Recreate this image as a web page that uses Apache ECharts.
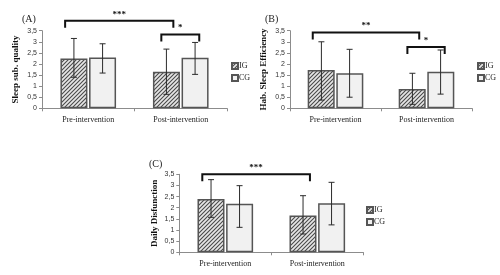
<!DOCTYPE html>
<html>
<head>
<meta charset="utf-8">
<script src="https://cdn.jsdelivr.net/npm/echarts@6/dist/echarts.min.js"></script>
<style>
  html, body { margin: 0; padding: 0; background: #fff; }
  #chart { width: 500px; height: 275px; }
</style>
</head>
<body>
<div id="chart"></div>
<script>
// groups and time points
const categories = ['Pre-intervention', 'Post-intervention'];
const groups = ['IG', 'CG'];

// (A) Sleep sub. quality
const qualityIG = [2.25, 1.65];
const qualityCG = [2.29, 2.28];
const qualityIGLow = [1.40, 0.63];
const qualityIGHigh = [3.15, 2.67];
const qualityCGLow = [1.59, 1.53];
const qualityCGHigh = [2.91, 2.97];

// (B) Hab. Sleep Efficiency
const efficiencyIG = [1.73, 0.87];
const efficiencyCG = [1.58, 1.65];
const efficiencyIGLow = [0.37, 0.18];
const efficiencyIGHigh = [3.00, 1.58];
const efficiencyCGLow = [0.50, 0.64];
const efficiencyCGHigh = [2.66, 2.63];

// (C) Daily Disfunction
const dysfunctionIG = [2.39, 1.65];
const dysfunctionCG = [2.18, 2.20];
const dysfunctionIGLow = [1.57, 0.82];
const dysfunctionIGHigh = [3.26, 2.54];
const dysfunctionCGLow = [1.12, 1.23];
const dysfunctionCGHigh = [2.99, 3.14];

// significance brackets: pre->post for IG ('time'), IG vs CG post ('group')
const qualityBrackets = [['***', 3.95, 'time'], ['*', 3.33, 'group']];
const efficiencyBrackets = [['**', 3.42, 'time'], ['*', 2.77, 'group']];
const dysfunctionBrackets = [['***', 3.5, 'time']];

const yMin = 0, yMax = 3.5, yStep = 0.5;

// hatch pattern for IG bars
function hatch() {
    const c = document.createElement('canvas');
    c.width = 4; c.height = 4;
    const ctx = c.getContext('2d');
    ctx.fillStyle = '#e6e6e6';
    ctx.fillRect(0, 0, 4, 4);
    ctx.strokeStyle = '#4a4a4a';
    ctx.lineWidth = 1.1;
    ctx.beginPath();
    ctx.moveTo(-1, 5); ctx.lineTo(5, -1);
    ctx.moveTo(-1, 1); ctx.lineTo(1, -1);
    ctx.moveTo(3, 5); ctx.lineTo(5, 3);
    ctx.stroke();
    return c;
}
const hatchFill = { image: hatch(), repeat: 'repeat' };

const panels = [
    { title: '(A)', name: 'Sleep sub. quality', ig: qualityIG, cg: qualityCG,
      igLow: qualityIGLow, igHigh: qualityIGHigh, cgLow: qualityCGLow, cgHigh: qualityCGHigh,
      brackets: qualityBrackets,
      grid: { left: 42, width: 185, top: 30.7, height: 77.6 }, nameGap: 22,
      titlePos: { left: 17, top: 9 }, legendPos: { left: 226, top: 57 } },
    { title: '(B)', name: 'Hab. Sleep Efficiency', ig: efficiencyIG, cg: efficiencyCG,
      igLow: efficiencyIGLow, igHigh: efficiencyIGHigh, cgLow: efficiencyCGLow, cgHigh: efficiencyCGHigh,
      brackets: efficiencyBrackets,
      grid: { left: 290, width: 182, top: 30.7, height: 77.6 }, nameGap: 22,
      titlePos: { left: 260, top: 9 }, legendPos: { left: 472, top: 57 } },
    { title: '(C)', name: 'Daily Disfunction', ig: dysfunctionIG, cg: dysfunctionCG,
      igLow: dysfunctionIGLow, igHigh: dysfunctionIGHigh, cgLow: dysfunctionCGLow, cgHigh: dysfunctionCGHigh,
      brackets: dysfunctionBrackets,
      grid: { left: 179.3, width: 184, top: 174.3, height: 78 }, nameGap: 20,
      titlePos: { left: 144, top: 154 }, legendPos: { left: 361, top: 201 } }
];

const serif = '"Liberation Serif", "DejaVu Serif", serif';
const axisGray = '#8c8c8c';

// error bar: vertical whisker with caps
function errorBarItem(params, api) {
    const x = api.value(0);
    const low = api.coord([x, api.value(1)]);
    const high = api.coord([x, api.value(2)]);
    const band = api.size([1, 0])[0];
    const shift = api.value(3) === 0 ? -band * 0.155 : band * 0.155;
    const cx = low[0] + shift;
    const cap = 3;
    const style = { stroke: '#2b2b2b', lineWidth: 1 };
    return {
        type: 'group',
        children: [
            { type: 'line', shape: { x1: cx, y1: low[1], x2: cx, y2: high[1] }, style: style },
            { type: 'line', shape: { x1: cx - cap, y1: high[1], x2: cx + cap, y2: high[1] }, style: style },
            { type: 'line', shape: { x1: cx - cap, y1: low[1], x2: cx + cap, y2: low[1] }, style: style }
        ]
    };
}

// significance bracket
function bracketItem(params, api) {
    const level = api.value(1);
    const kind = api.value(2);
    const label = api.value(3);
    const band = api.size([1, 0])[0];
    const p0 = api.coord([0, level]);
    const p1 = api.coord([1, level]);
    let x1, x2;
    if (kind === 'time') {
        x1 = p0[0] - band * 0.25;
        x2 = p1[0] - band * 0.08;
    } else {
        x1 = p1[0] - band * 0.21;
        x2 = p1[0] + band * 0.20;
    }
    const y = p0[1];
    const drop = 7;
    return {
        type: 'group',
        children: [
            { type: 'polyline',
              shape: { points: [[x1, y + drop], [x1, y], [x2, y], [x2, y + drop]] },
              style: { stroke: '#111', lineWidth: 2, fill: null } },
            { type: 'text',
              style: { x: (x1 + x2) / 2, y: y - 2, text: label, fill: '#111',
                       font: 'bold 9px ' + serif, align: 'center', verticalAlign: 'bottom' } }
        ]
    };
}

const option = {
    animation: false,
    backgroundColor: '#fff',
    title: [],
    legend: [],
    grid: [],
    xAxis: [],
    yAxis: [],
    series: []
};

panels.forEach((p, i) => {
    option.title.push({
        text: p.title, left: p.titlePos.left, top: p.titlePos.top,
        textStyle: { fontFamily: serif, fontSize: 10, fontWeight: 'normal', color: '#222' }
    });
    option.legend.push({
        data: groups, orient: 'vertical', left: p.legendPos.left, top: p.legendPos.top,
        icon: 'rect', itemWidth: 6, itemHeight: 6, itemGap: 4, selectedMode: false,
        textStyle: { fontFamily: serif, fontSize: 8, color: '#222', padding: [0, 0, 0, -4] }
    });
    option.grid.push(Object.assign({ containLabel: false }, p.grid));
    option.xAxis.push({
        type: 'category', gridIndex: i, data: categories, boundaryGap: true,
        axisLine: { lineStyle: { color: axisGray, width: 1 } },
        axisTick: { show: true, length: 3, lineStyle: { color: axisGray } },
        axisLabel: { fontFamily: serif, fontSize: 8, color: '#222', margin: 8 }
    });
    option.yAxis.push({
        type: 'value', gridIndex: i, min: yMin, max: yMax, interval: yStep,
        name: p.name, nameLocation: 'middle', nameGap: p.nameGap, nameRotate: 90,
        nameTextStyle: { fontFamily: serif, fontSize: 9, fontWeight: 'bold', color: '#111' },
        axisLine: { show: true, lineStyle: { color: axisGray, width: 1 } },
        axisTick: { show: true, length: 3, lineStyle: { color: axisGray } },
        splitLine: { show: false },
        axisLabel: {
            fontFamily: '"Liberation Sans", Arial, sans-serif', fontSize: 7, color: '#333', margin: 5,
            formatter: v => String(v).replace('.', ',')
        }
    });
    option.series.push({
        name: 'IG', type: 'bar', xAxisIndex: i, yAxisIndex: i, data: p.ig,
        barWidth: 27, barGap: '6%',
        itemStyle: { color: hatchFill, borderColor: '#555', borderWidth: 1.5 }
    });
    option.series.push({
        name: 'CG', type: 'bar', xAxisIndex: i, yAxisIndex: i, data: p.cg,
        barWidth: 27, barGap: '6%',
        itemStyle: { color: '#f1f1f1', borderColor: '#555', borderWidth: 1.5 }
    });
    const errData = [];
    categories.forEach((c, k) => {
        errData.push([k, p.igLow[k], p.igHigh[k], 0]);
        errData.push([k, p.cgLow[k], p.cgHigh[k], 1]);
    });
    option.series.push({
        type: 'custom', xAxisIndex: i, yAxisIndex: i, data: errData, z: 5, clip: false,
        renderItem: errorBarItem, encode: { x: 0, y: [1, 2] }, silent: true
    });
    option.series.push({
        type: 'custom', xAxisIndex: i, yAxisIndex: i, z: 6, clip: false, silent: true,
        data: p.brackets.map(b => [1, b[1], b[2], b[0]]),
        dimensions: ['x', 'level', 'kind', 'label'],
        renderItem: bracketItem, encode: { x: 0, y: 1 }
    });
});

const chart = echarts.init(document.getElementById('chart'), null, { renderer: 'canvas' });
chart.setOption(option);
</script>
</body>
</html>
